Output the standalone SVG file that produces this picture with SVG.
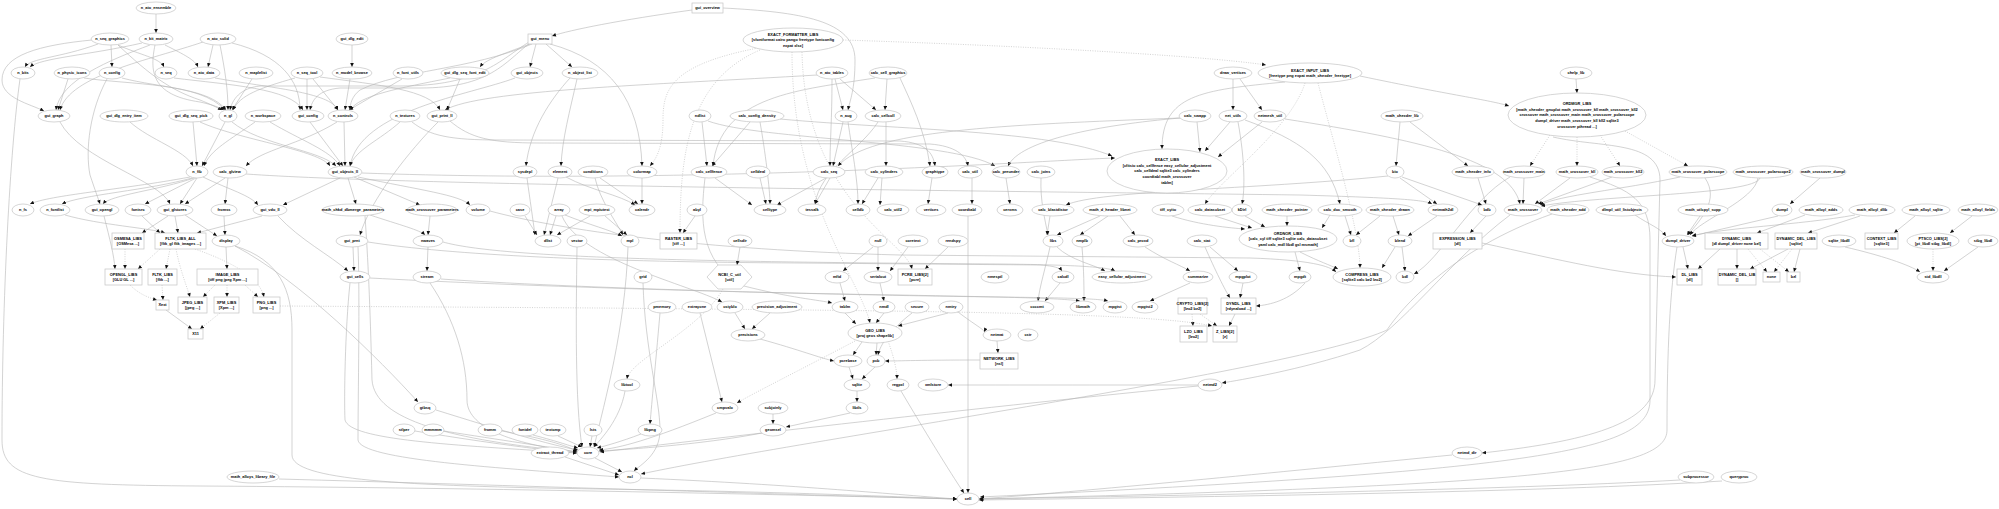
<svg xmlns="http://www.w3.org/2000/svg" width="1999" height="509" viewBox="0 0 1999 509">
<defs>
<marker id="a" viewBox="0 0 10 10" refX="10" refY="5" markerWidth="4.5" markerHeight="4" markerUnits="userSpaceOnUse" orient="auto"><path d="M0,0.5L10,5L0,9.5z" fill="#111"/></marker>
<style>
ellipse,rect.b,polygon{fill:#fff;stroke:#c4c4c4;stroke-width:0.7}
text{font-family:"Liberation Sans",Arial,sans-serif;font-size:3.9px;font-weight:bold;fill:#000;text-anchor:middle}
.e path{fill:none;stroke:#b5b5b5;stroke-width:0.6}
.e path.d{stroke-dasharray:1 1.4}
</style>
</defs>
<rect width="1999" height="509" fill="#fff"/>
<g id="edges" class="e" marker-end="url(#a)">
<path d="M156,14L156,33"/>
<path d="M98,44C60,58 30,58 25,67"/>
<path d="M111,45L112,67"/>
<path d="M118,45C140,55 160,58 164,67"/>
<path d="M92,40C40,45 2,55 2,80C2,98 30,104 44,111"/>
<path d="M118,45C150,75 170,90 200,100C210,104 218,108 222,110"/>
<path d="M142,43C90,55 40,58 30,67"/>
<path d="M165,45C185,55 195,60 198,67"/>
<path d="M150,45C110,60 60,80 56,110"/>
<path d="M155,45C150,70 150,95 200,102C214,105 220,108 224,110"/>
<path d="M213,45L208,67"/>
<path d="M203,42C150,60 70,75 60,110"/>
<path d="M220,45C225,70 228,90 228,110"/>
<path d="M232,43C280,55 300,80 300,110"/>
<path d="M352,45L352,67"/>
<path d="M68,79L58,110"/>
<path d="M84,78C130,85 200,82 225,110"/>
<path d="M122,78C160,88 210,88 226,110"/>
<path d="M107,79C90,110 85,150 90,175C95,190 98,198 100,204"/>
<path d="M174,78C230,85 290,88 303,110"/>
<path d="M215,78C270,88 330,92 338,110"/>
<path d="M252,79L232,110"/>
<path d="M307,79L307,110"/>
<path d="M313,79L338,110"/>
<path d="M320,77C380,85 430,90 440,110"/>
<path d="M295,78C260,88 240,95 233,110"/>
<path d="M350,79L345,110"/>
<path d="M402,79L349,110"/>
<path d="M450,78C400,88 360,95 350,110"/>
<path d="M460,79L447,110"/>
<path d="M530,44C500,55 485,60 480,67"/>
<path d="M532,44C470,70 400,70 360,90C352,96 350,104 350,110"/>
<path d="M529,42C500,60 480,86 400,86L260,86C240,88 232,100 230,110"/>
<path d="M530,43C505,62 490,88 420,88L340,88C318,90 312,100 310,110"/>
<path d="M60,122C80,160 160,180 170,204"/>
<path d="M130,122C150,140 185,150 193,166"/>
<path d="M193,122L197,166"/>
<path d="M200,122C240,140 320,150 330,166"/>
<path d="M225,122L202,166"/>
<path d="M232,122C260,145 320,150 336,166"/>
<path d="M255,122C230,140 210,150 204,166"/>
<path d="M270,122C300,140 330,150 340,166"/>
<path d="M310,122L343,166"/>
<path d="M337,122C300,145 260,150 246,166"/>
<path d="M344,122L345,166"/>
<path d="M400,122C380,140 355,150 350,166"/>
<path d="M412,122C430,136 450,140 500,140L900,141C925,143 933,152 935,166"/>
<path d="M438,122C410,150 370,200 360,235"/>
<path d="M450,121C470,138 490,143 540,143L930,144C955,146 966,155 968,166"/>
<path d="M692,10C620,20 570,30 552,36"/>
<path d="M723,8C800,12 855,20 855,60C855,90 850,100 848,110"/>
<path d="M536,44L530,67"/>
<path d="M546,44L572,67"/>
<path d="M550,44C610,60 640,100 642,166"/>
<path d="M577,79C570,110 562,140 561,166"/>
<path d="M570,78C550,100 530,130 526,166"/>
<path d="M515,78C470,95 360,110 350,166"/>
<path class="d" d="M843,40C1000,45 1200,55 1266,65"/>
<path class="d" d="M758,48C670,65 663,90 663,120C663,150 655,160 650,166"/>
<path class="d" d="M760,50C690,80 680,150 680,233"/>
<path class="d" d="M792,52C792,200 860,280 870,323"/>
<path class="d" d="M802,52C805,200 905,240 912,269"/>
<path d="M835,79L843,110"/>
<path d="M840,79L876,110"/>
<path d="M832,79C832,120 830,140 830,166"/>
<path d="M817,75C650,85 480,90 445,110"/>
<path d="M887,79L885,110"/>
<path d="M875,78C800,90 720,95 713,166"/>
<path d="M900,78C910,100 925,130 930,166"/>
<path d="M702,122L707,166"/>
<path d="M708,121C760,140 950,140 995,166"/>
<path d="M750,122L712,166"/>
<path d="M760,122C765,150 770,190 770,204"/>
<path d="M780,119C900,130 1050,130 1112,156"/>
<path d="M843,122L833,166"/>
<path d="M848,122C852,150 858,180 858,204"/>
<path d="M878,122C860,150 820,170 815,204"/>
<path d="M1180,118C1000,125 870,130 838,166"/>
<path d="M886,122L886,166"/>
<path d="M1233,79L1233,110"/>
<path d="M1240,79L1262,110"/>
<path d="M1285,82C1200,90 1162,95 1162,149"/>
<path class="d" d="M1305,83C1290,130 1220,180 1205,204"/>
<path class="d" d="M1318,83C1330,130 1360,230 1360,268"/>
<path d="M1360,76C1450,95 1490,100 1509,106"/>
<path d="M1180,118C1100,125 1020,140 1008,166"/>
<path d="M1197,122L1200,152"/>
<path d="M1230,122L1205,151"/>
<path d="M1262,122L1218,157"/>
<path d="M1238,122C1245,160 1245,190 1242,204"/>
<path d="M1245,120C1300,140 1330,160 1340,204"/>
<path d="M1285,119C1420,140 1510,160 1520,204"/>
<path d="M1400,122L1396,166"/>
<path d="M1410,122L1468,166"/>
<path d="M1576,79L1577,93"/>
<path class="d" d="M1550,135L1530,166"/>
<path class="d" d="M1577,137L1577,166"/>
<path class="d" d="M1600,135L1620,166"/>
<path class="d" d="M1625,131L1688,166"/>
<path d="M1553,137C1600,148 1660,140 1660,180L1655,380C1655,420 1600,440 1482,453"/>
<path d="M1590,177C1630,190 1650,200 1650,240L1650,400C1650,450 1550,470 980,497"/>
<path d="M1677,247C1670,290 1667,350 1667,430C1667,470 1550,485 980,499"/>
<path d="M1524,178L1523,204"/>
<path d="M1570,178L1535,204"/>
<path d="M1612,177L1538,204"/>
<path d="M1680,177C1620,190 1560,195 1540,205"/>
<path d="M1760,178C1755,195 1600,195 1541,206"/>
<path d="M1705,178C1720,200 1700,220 1688,235"/>
<path d="M1758,178C1755,200 1700,220 1690,235"/>
<path d="M1820,178L1790,204"/>
<path d="M1778,216L1692,236"/>
<path d="M1700,216L1687,235"/>
<path d="M1635,215C1650,225 1660,228 1666,236"/>
<path d="M1805,215L1757,233"/>
<path d="M1855,215C1800,225 1720,228 1692,236"/>
<path d="M1860,216L1808,233"/>
<path d="M1915,216L1894,233"/>
<path d="M1972,216L1950,233"/>
<path d="M1683,247L1688,269"/>
<path d="M1720,249L1698,269"/>
<path d="M1737,249L1737,269"/>
<path class="d" d="M1748,249L1767,272"/>
<path class="d" d="M1760,249L1789,272"/>
<path d="M1788,249L1750,269"/>
<path class="d" d="M1792,249L1774,272"/>
<path d="M1800,249L1794,272"/>
<path d="M1845,247C1880,255 1910,265 1920,272"/>
<path class="d" d="M1933,249L1933,271"/>
<path d="M1978,247L1944,271"/>
<path d="M1552,214C1450,250 1400,310 1387,330C1300,370 800,440 641,474"/>
<path d="M1510,215C1450,260 1400,330 1360,350C1300,370 1240,380 1222,383"/>
<path d="M1482,243C1560,260 1620,275 1676,277"/>
<path d="M1510,177C1470,200 1440,260 1414,274"/>
<path d="M1400,178L1437,204"/>
<path d="M1402,177L1482,205"/>
<path d="M1388,176C1250,190 1100,190 1066,205"/>
<path d="M1478,178L1486,204"/>
<path d="M246,174C400,185 900,190 1300,195C1400,198 1425,200 1432,204"/>
<path d="M1050,216L1047,235"/>
<path d="M1100,216L1057,235"/>
<path d="M1108,216L1080,235"/>
<path d="M1120,216L1135,235"/>
<path d="M1041,178C1040,200 1045,220 1048,235"/>
<path d="M1006,178L1010,204"/>
<path d="M1172,216C1200,225 1230,228 1245,229"/>
<path d="M1215,216L1252,228"/>
<path d="M1245,216L1265,227"/>
<path d="M1287,216L1287,226"/>
<path d="M1330,215L1322,228"/>
<path d="M1345,216L1351,235"/>
<path d="M1380,216L1356,235"/>
<path d="M1393,216L1399,235"/>
<path d="M1437,216L1408,236"/>
<path d="M1486,216L1470,233"/>
<path d="M1057,247C1070,260 1095,265 1105,271"/>
<path d="M1050,247C1045,270 1040,285 1038,301"/>
<path d="M1082,247C1084,270 1084,290 1084,301"/>
<path d="M1145,247C1165,260 1180,265 1190,271"/>
<path d="M1210,247L1238,271"/>
<path d="M1205,247C1215,270 1225,290 1230,298"/>
<path d="M1300,252C1320,262 1330,265 1338,269"/>
<path d="M1395,247L1382,268"/>
<path d="M1402,247L1405,271"/>
<path d="M1295,252L1300,271"/>
<path d="M1060,283L1045,301"/>
<path d="M368,242C450,255 600,262 800,263L1040,265C1055,266 1060,268 1062,271"/>
<path d="M443,242C500,258 700,262 1000,264C1090,265 1110,268 1115,271"/>
<path d="M490,211C560,230 700,250 900,255L1250,258C1310,260 1330,266 1336,272"/>
<path d="M370,278C500,285 700,292 900,295C1000,297 1060,298 1080,301"/>
<path d="M441,279C600,290 900,296 1000,297C1080,298 1100,299 1108,301"/>
<path d="M1190,283L1150,301"/>
<path d="M1243,283L1240,298"/>
<path d="M1305,283C1290,300 1270,305 1256,306"/>
<path class="d" d="M1192,314L1193,326"/>
<path class="d" d="M1200,314L1217,326"/>
<path d="M1235,314L1229,326"/>
<path class="d" d="M280,306L600,308C900,311 1150,312 1212,326"/>
<path d="M527,178C530,200 533,220 535,235"/>
<path d="M558,178L544,235"/>
<path d="M566,177C590,190 620,195 635,205"/>
<path d="M600,178L638,204"/>
<path d="M595,178C600,200 615,220 623,235"/>
<path d="M642,178L642,204"/>
<path d="M715,178L752,205"/>
<path d="M705,178C700,220 700,260 740,285C790,298 820,300 832,303"/>
<path d="M760,178L766,204"/>
<path d="M826,178L777,205"/>
<path d="M830,178L815,204"/>
<path d="M882,178L880,205"/>
<path d="M932,178L928,204"/>
<path d="M972,178L972,204"/>
<path d="M878,178L862,204"/>
<path d="M525,216L537,235"/>
<path d="M556,216L550,235"/>
<path d="M565,215C590,225 610,230 622,236"/>
<path d="M605,216L627,235"/>
<path d="M590,216L557,235"/>
<path d="M695,216L683,233"/>
<path d="M740,247L737,265"/>
<path d="M873,247L843,271"/>
<path d="M878,247L878,271"/>
<path d="M908,247L890,271"/>
<path d="M948,247L925,269"/>
<path d="M577,247C576,320 575,400 582,447"/>
<path d="M628,247C625,330 605,400 594,447"/>
<path d="M643,283C645,350 660,400 660,430C660,455 640,465 634,471"/>
<path class="d" d="M723,289C700,330 630,360 627,379"/>
<path d="M840,283L845,301"/>
<path d="M880,283L884,301"/>
<path d="M845,313L856,324"/>
<path d="M884,313L876,323"/>
<path d="M948,313L898,326"/>
<path d="M660,313C655,370 652,400 650,424"/>
<path d="M700,313L722,402"/>
<path d="M735,313L745,329"/>
<path d="M770,313L752,329"/>
<path d="M912,313C890,330 880,345 878,355"/>
<path d="M562,216C580,260 690,285 722,302"/>
<path d="M760,339C800,350 820,358 834,361"/>
<path d="M862,342L853,355"/>
<path d="M877,343L876,355"/>
<path class="d" d="M888,341C895,360 897,372 897,379"/>
<path class="d" d="M855,341C800,370 750,395 737,403"/>
<path d="M849,367L853,379"/>
<path d="M875,367L862,379"/>
<path d="M857,391L857,402"/>
<path d="M850,413L786,427"/>
<path d="M773,414L773,424"/>
<path d="M762,433C700,445 620,450 599,451"/>
<path d="M716,413C650,440 620,448 599,450"/>
<path d="M641,434C620,442 605,446 597,448"/>
<path d="M592,436L590,447"/>
<path d="M558,436L582,447"/>
<path d="M533,435C560,442 570,446 578,448"/>
<path d="M502,431C540,438 560,443 577,451"/>
<path d="M444,431C500,440 550,447 577,452"/>
<path d="M415,431C500,445 560,452 577,453"/>
<path d="M436,410C500,430 550,445 578,450"/>
<path d="M625,391C620,420 600,440 594,447"/>
<path d="M1198,386C1000,405 700,440 600,452"/>
<path d="M595,458L622,472"/>
<path d="M565,457L619,475"/>
<path d="M641,478C800,485 900,495 957,499"/>
<path d="M901,391C930,440 955,480 964,493"/>
<path d="M968,216C968,300 968,400 968,493"/>
<path d="M997,341L998,353"/>
<path d="M958,312C975,325 985,330 984,332"/>
<path d="M980,360C920,360 900,361 885,361"/>
<path d="M1198,385C1100,385 1000,385 948,385"/>
<path d="M1452,455C1300,470 1100,490 979,499"/>
<path d="M1680,480C1500,490 1200,495 979,499"/>
<path d="M1722,481C1550,492 1200,497 979,500"/>
<path d="M20,79C10,150 2,300 2,440C2,480 40,485 200,486C500,488 800,495 957,499"/>
<path d="M279,479C500,485 800,495 957,499"/>
<path d="M235,246C280,260 292,290 292,330L292,455C292,480 400,486 600,489C800,492 900,497 957,499"/>
<path d="M235,246C300,280 380,360 418,402"/>
<path d="M350,283C345,330 344,400 345,420C350,440 450,445 577,453"/>
<path d="M358,247C360,290 358,400 358,440C360,460 500,468 619,477"/>
<path d="M365,216C368,260 370,300 372,380C375,420 450,440 577,452"/>
<path d="M430,283C455,320 467,360 467,400C467,430 520,445 577,452"/>
<path d="M190,177C120,190 50,195 30,204"/>
<path d="M192,178C150,190 80,195 62,204"/>
<path d="M194,178C160,190 110,195 103,204"/>
<path d="M196,178L145,204"/>
<path d="M203,177C230,190 250,195 258,205"/>
<path d="M197,178L180,204"/>
<path d="M228,178L225,204"/>
<path d="M225,178L185,204"/>
<path d="M340,178L283,205"/>
<path d="M348,178L356,204"/>
<path d="M354,177L420,205"/>
<path d="M358,177C420,190 460,195 470,205"/>
<path d="M362,173C700,185 1050,160 1115,158"/>
<path d="M65,215C100,225 150,228 165,233"/>
<path d="M104,216C110,240 114,255 115,269"/>
<path d="M168,216L142,233"/>
<path d="M185,215L217,236"/>
<path d="M175,216L178,233"/>
<path d="M142,216L160,233"/>
<path d="M224,216L225,235"/>
<path d="M262,216L197,233"/>
<path d="M278,216C300,240 330,255 348,271"/>
<path d="M370,215C400,225 420,230 425,235"/>
<path d="M430,216L428,235"/>
<path class="d" d="M125,249L125,269"/>
<path class="d" d="M160,249L138,269"/>
<path class="d" d="M170,249L166,269"/>
<path class="d" d="M176,249C180,270 188,290 190,297"/>
<path class="d" d="M195,249C240,265 260,280 264,297"/>
<path d="M226,247L227,269"/>
<path class="d" d="M215,285L203,297"/>
<path class="d" d="M227,285L227,297"/>
<path class="d" d="M245,285L258,297"/>
<path class="d" d="M130,285C140,295 150,298 157,300"/>
<path class="d" d="M162,285L163,300"/>
<path d="M166,310L192,329"/>
<path class="d" d="M220,313L200,329"/>
<path d="M353,247L354,271"/>
<path d="M428,247L427,271"/>
</g>
<g id="nodes">
<g id="n_ato_ensemble"><ellipse cx="156" cy="8" rx="20" ry="6"/><text x="156" y="9.4">n_ato_ensemble</text></g>
<g id="gui_overview"><rect class="b" x="692" y="3" width="31" height="10"/><text x="707.5" y="9.4">gui_overview</text></g>
<g id="n_seq_graphics"><ellipse cx="110" cy="39" rx="19" ry="6"/><text x="110" y="40.4">n_seq_graphics</text></g>
<g id="n_kit_matrix"><ellipse cx="156" cy="39" rx="17" ry="6"/><text x="156" y="40.4">n_kit_matrix</text></g>
<g id="n_ato_solid"><ellipse cx="218" cy="39" rx="18" ry="6"/><text x="218" y="40.4">n_ato_solid</text></g>
<g id="gui_dlg_edit"><ellipse cx="352" cy="39" rx="16" ry="6"/><text x="352" y="40.4">gui_dlg_edit</text></g>
<g id="gui_menu"><rect class="b" x="528" y="34" width="24" height="10"/><text x="540" y="40.4">gui_menu</text></g>
<g id="EXACT_FORMATTER_LIBS"><ellipse cx="793" cy="40" rx="50" ry="12"/><text x="793" y="35.8">EXACT_FORMATTER_LIBS</text><text x="793" y="41.4">[sfontformat cairo pango freetype fontconfig</text><text x="793" y="47">expat xlsx]</text></g>
<g id="n_bits"><ellipse cx="23" cy="73" rx="12" ry="6"/><text x="23" y="74.4">n_bits</text></g>
<g id="n_physic_icons"><ellipse cx="72" cy="73" rx="18" ry="6"/><text x="72" y="74.4">n_physic_icons</text></g>
<g id="n_config"><ellipse cx="112" cy="73" rx="13" ry="6"/><text x="112" y="74.4">n_config</text></g>
<g id="n_seq"><ellipse cx="166" cy="73" rx="11" ry="6"/><text x="166" y="74.4">n_seq</text></g>
<g id="n_ato_data"><ellipse cx="204" cy="73" rx="16" ry="6"/><text x="204" y="74.4">n_ato_data</text></g>
<g id="n_maplelist"><ellipse cx="256" cy="73" rx="17" ry="6"/><text x="256" y="74.4">n_maplelist</text></g>
<g id="n_seq_tool"><ellipse cx="307" cy="73" rx="16" ry="6"/><text x="307" y="74.4">n_seq_tool</text></g>
<g id="n_model_browse"><ellipse cx="352" cy="73" rx="20" ry="6"/><text x="352" y="74.4">n_model_browse</text></g>
<g id="n_font_utils"><ellipse cx="408" cy="73" rx="15" ry="6"/><text x="408" y="74.4">n_font_utils</text></g>
<g id="gui_dlg_seq_font_edit"><ellipse cx="465" cy="73" rx="24" ry="6"/><text x="465" y="74.4">gui_dlg_seq_font_edit</text></g>
<g id="gui_objects"><ellipse cx="527" cy="73" rx="16" ry="6"/><text x="527" y="74.4">gui_objects</text></g>
<g id="n_object_list"><ellipse cx="580" cy="73" rx="18" ry="6"/><text x="580" y="74.4">n_object_list</text></g>
<g id="n_ato_tables"><ellipse cx="832" cy="73" rx="16" ry="6"/><text x="832" y="74.4">n_ato_tables</text></g>
<g id="calc_cell_graphics"><ellipse cx="888" cy="73" rx="19" ry="6"/><text x="888" y="74.4">calc_cell_graphics</text></g>
<g id="draw_vertices"><ellipse cx="1233" cy="73" rx="19" ry="6"/><text x="1233" y="74.4">draw_vertices</text></g>
<g id="EXACT_INPUT_LIBS"><ellipse cx="1310" cy="73" rx="52" ry="10"/><text x="1310" y="71.6">EXACT_INPUT_LIBS</text><text x="1310" y="77.2">[freetype png expat math_chexder_freetype]</text></g>
<g id="chelp_lib"><ellipse cx="1576" cy="73" rx="16" ry="6"/><text x="1576" y="74.4">chelp_lib</text></g>
<g id="gui_graph"><ellipse cx="54" cy="116" rx="16" ry="6"/><text x="54" y="117.4">gui_graph</text></g>
<g id="gui_dlg_entry_item"><ellipse cx="124" cy="116" rx="24" ry="6"/><text x="124" y="117.4">gui_dlg_entry_item</text></g>
<g id="gui_dlg_seq_pick"><ellipse cx="191" cy="116" rx="22" ry="6"/><text x="191" y="117.4">gui_dlg_seq_pick</text></g>
<g id="n_gl"><ellipse cx="228" cy="116" rx="9" ry="6"/><text x="228" y="117.4">n_gl</text></g>
<g id="n_workspace"><ellipse cx="263" cy="116" rx="18" ry="6"/><text x="263" y="117.4">n_workspace</text></g>
<g id="gui_config"><ellipse cx="308" cy="116" rx="16" ry="6"/><text x="308" y="117.4">gui_config</text></g>
<g id="n_controls"><ellipse cx="343" cy="116" rx="15" ry="6"/><text x="343" y="117.4">n_controls</text></g>
<g id="n_textures"><ellipse cx="405" cy="116" rx="15" ry="6"/><text x="405" y="117.4">n_textures</text></g>
<g id="gui_print_ll"><ellipse cx="442" cy="116" rx="15" ry="6"/><text x="442" y="117.4">gui_print_ll</text></g>
<g id="ndlist"><ellipse cx="700" cy="116" rx="11" ry="6"/><text x="700" y="117.4">ndlist</text></g>
<g id="calc_config_density"><ellipse cx="757" cy="116" rx="27" ry="6"/><text x="757" y="117.4">calc_config_density</text></g>
<g id="n_aug"><ellipse cx="846" cy="116" rx="11" ry="6"/><text x="846" y="117.4">n_aug</text></g>
<g id="calc_cellcoll"><ellipse cx="883" cy="116" rx="18" ry="6"/><text x="883" y="117.4">calc_cellcoll</text></g>
<g id="calc_swapp"><ellipse cx="1195" cy="116" rx="16" ry="6"/><text x="1195" y="117.4">calc_swapp</text></g>
<g id="net_utils"><ellipse cx="1233" cy="116" rx="14" ry="6"/><text x="1233" y="117.4">net_utils</text></g>
<g id="netmesh_util"><ellipse cx="1270" cy="116" rx="16" ry="6"/><text x="1270" y="117.4">netmesh_util</text></g>
<g id="math_chexder_lib"><ellipse cx="1402" cy="116" rx="21" ry="6"/><text x="1402" y="117.4">math_chexder_lib</text></g>
<g id="ORDMGR_LIBS"><ellipse cx="1577" cy="115" rx="69" ry="22"/><text x="1577" y="105.2">ORDMGR_LIBS</text><text x="1577" y="110.8">[math_chexder_gnuplot math_crossover_kll math_crossover_kll2</text><text x="1577" y="116.4">crossover math_crossover_main math_crossover_polarscope</text><text x="1577" y="122">dumpl_driver math_crossover_kll kll2 sqlite3</text><text x="1577" y="127.6">crossover pthread ...]</text></g>
<g id="n_fib"><ellipse cx="197" cy="172" rx="11" ry="6"/><text x="197" y="173.4">n_fib</text></g>
<g id="calc_glview"><ellipse cx="230" cy="172" rx="17" ry="6"/><text x="230" y="173.4">calc_glview</text></g>
<g id="gui_objects_ll"><ellipse cx="345" cy="172" rx="17" ry="6"/><text x="345" y="173.4">gui_objects_ll</text></g>
<g id="sysdepl"><ellipse cx="525" cy="172" rx="12" ry="6"/><text x="525" y="173.4">sysdepl</text></g>
<g id="element"><ellipse cx="560" cy="172" rx="12" ry="6"/><text x="560" y="173.4">element</text></g>
<g id="conditions"><ellipse cx="593" cy="172" rx="15" ry="6"/><text x="593" y="173.4">conditions</text></g>
<g id="colormap"><ellipse cx="642" cy="172" rx="15" ry="6"/><text x="642" y="173.4">colormap</text></g>
<g id="calc_cellfence"><ellipse cx="709" cy="172" rx="18" ry="6"/><text x="709" y="173.4">calc_cellfence</text></g>
<g id="celldeal"><ellipse cx="758" cy="172" rx="12" ry="6"/><text x="758" y="173.4">celldeal</text></g>
<g id="calc_seq"><ellipse cx="829" cy="172" rx="16" ry="6"/><text x="829" y="173.4">calc_seq</text></g>
<g id="calc_cylinders"><ellipse cx="884" cy="172" rx="19" ry="6"/><text x="884" y="173.4">calc_cylinders</text></g>
<g id="graphtype"><ellipse cx="935" cy="172" rx="13" ry="6"/><text x="935" y="173.4">graphtype</text></g>
<g id="calc_util"><ellipse cx="970" cy="172" rx="12" ry="6"/><text x="970" y="173.4">calc_util</text></g>
<g id="calc_preunder"><ellipse cx="1006" cy="172" rx="14" ry="6"/><text x="1006" y="173.4">calc_preunder</text></g>
<g id="calc_joins"><ellipse cx="1041" cy="172" rx="14" ry="6"/><text x="1041" y="173.4">calc_joins</text></g>
<g id="EXACT_LIBS"><ellipse cx="1167" cy="171" rx="60" ry="22"/><text x="1167" y="161.2">EXACT_LIBS</text><text x="1167" y="166.8">[cfitsio calc_cellfence easy_cellular_adjustment</text><text x="1167" y="172.4">calc_celldeal sqlite3 calc_cylinders</text><text x="1167" y="178">coordtabl math_crossover</text><text x="1167" y="183.6">tablm]</text></g>
<g id="bio"><ellipse cx="1395" cy="172" rx="9" ry="6"/><text x="1395" y="173.4">bio</text></g>
<g id="math_chexder_info"><ellipse cx="1473" cy="172" rx="21" ry="6"/><text x="1473" y="173.4">math_chexder_info</text></g>
<g id="math_crossover_main"><ellipse cx="1524" cy="172" rx="21" ry="6"/><text x="1524" y="173.4">math_crossover_main</text></g>
<g id="math_crossover_kll"><ellipse cx="1577" cy="172" rx="21" ry="6"/><text x="1577" y="173.4">math_crossover_kll</text></g>
<g id="math_crossover_kll2"><ellipse cx="1623" cy="172" rx="21" ry="6"/><text x="1623" y="173.4">math_crossover_kll2</text></g>
<g id="math_crossover_polarscope"><ellipse cx="1698" cy="172" rx="29" ry="6"/><text x="1698" y="173.4">math_crossover_polarscope</text></g>
<g id="math_crossover_polarscope2"><ellipse cx="1763" cy="172" rx="30" ry="6"/><text x="1763" y="173.4">math_crossover_polarscope2</text></g>
<g id="math_crossover_dumpl"><ellipse cx="1823" cy="172" rx="23" ry="6"/><text x="1823" y="173.4">math_crossover_dumpl</text></g>
<g id="n_fs"><ellipse cx="23" cy="210" rx="11" ry="6"/><text x="23" y="211.4">n_fs</text></g>
<g id="n_fontlist"><ellipse cx="55" cy="210" rx="15" ry="6"/><text x="55" y="211.4">n_fontlist</text></g>
<g id="gui_opengl"><ellipse cx="102" cy="210" rx="17" ry="6"/><text x="102" y="211.4">gui_opengl</text></g>
<g id="fontsrc"><ellipse cx="138" cy="210" rx="13" ry="6"/><text x="138" y="211.4">fontsrc</text></g>
<g id="gui_glstores"><ellipse cx="175" cy="210" rx="18" ry="6"/><text x="175" y="211.4">gui_glstores</text></g>
<g id="fromss"><ellipse cx="224" cy="210" rx="13" ry="6"/><text x="224" y="211.4">fromss</text></g>
<g id="gui_vdo_ll"><ellipse cx="270" cy="210" rx="17" ry="6"/><text x="270" y="211.4">gui_vdo_ll</text></g>
<g id="math_chkd_dbmerge_parameters"><ellipse cx="353" cy="210" rx="31" ry="6"/><text x="353" y="211.4">math_chkd_dbmerge_parameters</text></g>
<g id="math_crossover_parameters"><ellipse cx="432" cy="210" rx="25" ry="6"/><text x="432" y="211.4">math_crossover_parameters</text></g>
<g id="volume"><ellipse cx="478" cy="210" rx="12" ry="6"/><text x="478" y="211.4">volume</text></g>
<g id="case"><ellipse cx="520" cy="210" rx="10" ry="6"/><text x="520" y="211.4">case</text></g>
<g id="array"><ellipse cx="559" cy="210" rx="11" ry="6"/><text x="559" y="211.4">array</text></g>
<g id="mpi_mpiutest"><ellipse cx="597" cy="210" rx="18" ry="6"/><text x="597" y="211.4">mpi_mpiutest</text></g>
<g id="calendr"><ellipse cx="642" cy="210" rx="13" ry="6"/><text x="642" y="211.4">calendr</text></g>
<g id="abyl"><ellipse cx="697" cy="210" rx="10" ry="6"/><text x="697" y="211.4">abyl</text></g>
<g id="celltype"><ellipse cx="770" cy="210" rx="16" ry="6"/><text x="770" y="211.4">celltype</text></g>
<g id="tessalk"><ellipse cx="812" cy="210" rx="14" ry="6"/><text x="812" y="211.4">tessalk</text></g>
<g id="celldb"><ellipse cx="858" cy="210" rx="12" ry="6"/><text x="858" y="211.4">celldb</text></g>
<g id="calc_util2"><ellipse cx="893" cy="210" rx="16" ry="6"/><text x="893" y="211.4">calc_util2</text></g>
<g id="vertices"><ellipse cx="931" cy="210" rx="15" ry="6"/><text x="931" y="211.4">vertices</text></g>
<g id="coordtabl"><ellipse cx="967" cy="210" rx="15" ry="6"/><text x="967" y="211.4">coordtabl</text></g>
<g id="cerxms"><ellipse cx="1010" cy="210" rx="13" ry="6"/><text x="1010" y="211.4">cerxms</text></g>
<g id="calc_blastdistor"><ellipse cx="1053" cy="210" rx="21" ry="6"/><text x="1053" y="211.4">calc_blastdistor</text></g>
<g id="math_d_header_libnet"><ellipse cx="1110" cy="210" rx="27" ry="6"/><text x="1110" y="211.4">math_d_header_libnet</text></g>
<g id="tiff_cyito"><ellipse cx="1168" cy="210" rx="16" ry="6"/><text x="1168" y="211.4">tiff_cyito</text></g>
<g id="calc_datasubset"><ellipse cx="1210" cy="210" rx="22" ry="6"/><text x="1210" y="211.4">calc_datasubset</text></g>
<g id="kDirl"><ellipse cx="1242" cy="210" rx="10" ry="6"/><text x="1242" y="211.4">kDirl</text></g>
<g id="math_chexder_pointer"><ellipse cx="1287" cy="210" rx="25" ry="6"/><text x="1287" y="211.4">math_chexder_pointer</text></g>
<g id="calc_doc_smooth"><ellipse cx="1340" cy="210" rx="22" ry="6"/><text x="1340" y="211.4">calc_doc_smooth</text></g>
<g id="math_chexder_drawn"><ellipse cx="1390" cy="210" rx="24" ry="6"/><text x="1390" y="211.4">math_chexder_drawn</text></g>
<g id="netmath2dl"><ellipse cx="1443" cy="210" rx="15" ry="6"/><text x="1443" y="211.4">netmath2dl</text></g>
<g id="bdb"><ellipse cx="1487" cy="210" rx="9" ry="6"/><text x="1487" y="211.4">bdb</text></g>
<g id="math_crossover"><ellipse cx="1523" cy="210" rx="19" ry="6"/><text x="1523" y="211.4">math_crossover</text></g>
<g id="math_chexder_add"><ellipse cx="1568" cy="210" rx="21" ry="6"/><text x="1568" y="211.4">math_chexder_add</text></g>
<g id="dlmpl_util_listobjects"><ellipse cx="1622" cy="210" rx="26" ry="6"/><text x="1622" y="211.4">dlmpl_util_listobjects</text></g>
<g id="math_utlcpyl_supp"><ellipse cx="1703" cy="210" rx="25" ry="6"/><text x="1703" y="211.4">math_utlcpyl_supp</text></g>
<g id="dumpl"><ellipse cx="1782" cy="210" rx="10" ry="6"/><text x="1782" y="211.4">dumpl</text></g>
<g id="math_alloyl_adds"><ellipse cx="1821" cy="210" rx="22" ry="6"/><text x="1821" y="211.4">math_alloyl_adds</text></g>
<g id="math_alloyl_dlib"><ellipse cx="1872" cy="210" rx="23" ry="6"/><text x="1872" y="211.4">math_alloyl_dlib</text></g>
<g id="math_alloyl_sqlite"><ellipse cx="1926" cy="210" rx="24" ry="6"/><text x="1926" y="211.4">math_alloyl_sqlite</text></g>
<g id="math_alloyl_fields"><ellipse cx="1978" cy="210" rx="20" ry="6"/><text x="1978" y="211.4">math_alloyl_fields</text></g>
<g id="OSMESA_LIBS"><rect class="b" x="112" y="233" width="32" height="16"/><text x="128" y="239.6">OSMESA_LIBS</text><text x="128" y="245.2">[OSMesa ...]</text></g>
<g id="FLTK_LIBS_ALL"><rect class="b" x="155" y="233" width="51" height="16"/><text x="180.5" y="239.6">FLTK_LIBS_ALL</text><text x="180.5" y="245.2">[fltk_gl fltk_images ...]</text></g>
<g id="display"><ellipse cx="226" cy="241" rx="14" ry="6"/><text x="226" y="242.4">display</text></g>
<g id="gui_prnt"><ellipse cx="352" cy="241" rx="16" ry="6"/><text x="352" y="242.4">gui_prnt</text></g>
<g id="nwaves"><ellipse cx="428" cy="241" rx="15" ry="6"/><text x="428" y="242.4">nwaves</text></g>
<g id="dlist"><ellipse cx="548" cy="241" rx="13" ry="6"/><text x="548" y="242.4">dlist</text></g>
<g id="vector"><ellipse cx="577" cy="241" rx="10" ry="6"/><text x="577" y="242.4">vector</text></g>
<g id="mpl"><ellipse cx="630" cy="241" rx="9" ry="6"/><text x="630" y="242.4">mpl</text></g>
<g id="RASTER_LIBS"><rect class="b" x="660" y="233" width="37" height="16"/><text x="678.5" y="239.6">RASTER_LIBS</text><text x="678.5" y="245.2">[tiff ...]</text></g>
<g id="cellsdir"><ellipse cx="740" cy="241" rx="12" ry="6"/><text x="740" y="242.4">cellsdir</text></g>
<g id="null"><ellipse cx="878" cy="241" rx="9" ry="6"/><text x="878" y="242.4">null</text></g>
<g id="coretext"><ellipse cx="913" cy="241" rx="15" ry="6"/><text x="913" y="242.4">coretext</text></g>
<g id="rendspy"><ellipse cx="953" cy="241" rx="15" ry="6"/><text x="953" y="242.4">rendspy</text></g>
<g id="libs"><ellipse cx="1053" cy="241" rx="10" ry="6"/><text x="1053" y="242.4">libs</text></g>
<g id="nmplb"><ellipse cx="1082" cy="241" rx="10" ry="6"/><text x="1082" y="242.4">nmplb</text></g>
<g id="calc_proxd"><ellipse cx="1138" cy="241" rx="15" ry="6"/><text x="1138" y="242.4">calc_proxd</text></g>
<g id="calc_stat"><ellipse cx="1202" cy="241" rx="15" ry="6"/><text x="1202" y="242.4">calc_stat</text></g>
<g id="ORDNOR_LIBS"><ellipse cx="1288" cy="239" rx="49" ry="13"/><text x="1288" y="234.8">ORDNOR_LIBS</text><text x="1288" y="240.4">[calc_cyl tiff sqlite3 sqlite calc_datasubset</text><text x="1288" y="246">yaml calc_mdl libdl gsl msmath]</text></g>
<g id="bfl"><ellipse cx="1352" cy="241" rx="9" ry="6"/><text x="1352" y="242.4">bfl</text></g>
<g id="blend"><ellipse cx="1400" cy="241" rx="12" ry="6"/><text x="1400" y="242.4">blend</text></g>
<g id="EXPRESSION_LIBS"><rect class="b" x="1433" y="233" width="49" height="16"/><text x="1457.5" y="239.6">EXPRESSION_LIBS</text><text x="1457.5" y="245.2">[dl]</text></g>
<g id="dumpl_driver"><ellipse cx="1678" cy="241" rx="16" ry="6"/><text x="1678" y="242.4">dumpl_driver</text></g>
<g id="DYNAMIC_LIBS"><rect class="b" x="1705" y="233" width="63" height="16"/><text x="1736.5" y="239.6">DYNAMIC_LIBS</text><text x="1736.5" y="245.2">[dl dumpl_driver none bzl]</text></g>
<g id="DYNAMIC_DEL_LIBS"><rect class="b" x="1775" y="233" width="42" height="16"/><text x="1796" y="239.6">DYNAMIC_DEL_LIBS</text><text x="1796" y="245.2">[sqlite]</text></g>
<g id="sqlite_libdll"><ellipse cx="1839" cy="241" rx="17" ry="6"/><text x="1839" y="242.4">sqlite_libdll</text></g>
<g id="CONTEXT_LIBS"><rect class="b" x="1865" y="233" width="33" height="16"/><text x="1881.5" y="239.6">CONTEXT_LIBS</text><text x="1881.5" y="245.2">[sqlite3]</text></g>
<g id="PTSCO_LIBS"><ellipse cx="1933" cy="241" rx="26" ry="8"/><text x="1933" y="239.6">PTSCO_LIBS[2]</text><text x="1933" y="245.2">[pt_libdl stbg_libdl]</text></g>
<g id="stbg_libdl"><ellipse cx="1983" cy="241" rx="15" ry="6"/><text x="1983" y="242.4">stbg_libdl</text></g>
<g id="OPENGL_LIBS"><rect class="b" x="105" y="269" width="37" height="16"/><text x="123.5" y="275.6">OPENGL_LIBS</text><text x="123.5" y="281.2">[GLU GL ...]</text></g>
<g id="FLTK_LIBS"><rect class="b" x="148" y="269" width="29" height="16"/><text x="162.5" y="275.6">FLTK_LIBS</text><text x="162.5" y="281.2">[fltk ...]</text></g>
<g id="IMAGE_LIBS"><rect class="b" x="197" y="269" width="61" height="16"/><text x="227.5" y="275.6">IMAGE_LIBS</text><text x="227.5" y="281.2">[tiff png jpeg Xpm ...]</text></g>
<g id="gui_cells"><ellipse cx="355" cy="277" rx="15" ry="6"/><text x="355" y="278.4">gui_cells</text></g>
<g id="stream"><ellipse cx="427" cy="277" rx="14" ry="6"/><text x="427" y="278.4">stream</text></g>
<g id="grid"><ellipse cx="643" cy="277" rx="9" ry="6"/><text x="643" y="278.4">grid</text></g>
<g id="NCBI_C_util"><polygon points="707,277 718,265 741,265 752,277 741,289 718,289"/><text x="729.5" y="275.6">NCBI_C_util</text><text x="729.5" y="281.2">[util]</text></g>
<g id="mfid"><ellipse cx="837" cy="277" rx="12" ry="6"/><text x="837" y="278.4">mfid</text></g>
<g id="serialout"><ellipse cx="878" cy="277" rx="14" ry="6"/><text x="878" y="278.4">serialout</text></g>
<g id="PCRE_LIBS"><rect class="b" x="898" y="269" width="34" height="16"/><text x="915" y="275.6">PCRE_LIBS[2]</text><text x="915" y="281.2">[pcre]</text></g>
<g id="nmesptl"><ellipse cx="995" cy="277" rx="14" ry="6"/><text x="995" y="278.4">nmesptl</text></g>
<g id="calcdl"><ellipse cx="1063" cy="277" rx="11" ry="6"/><text x="1063" y="278.4">calcdl</text></g>
<g id="easy_cellular_adjustment"><ellipse cx="1122" cy="277" rx="30" ry="6"/><text x="1122" y="278.4">easy_cellular_adjustment</text></g>
<g id="summarize"><ellipse cx="1198" cy="277" rx="15" ry="6"/><text x="1198" y="278.4">summarize</text></g>
<g id="mpgplot"><ellipse cx="1243" cy="277" rx="14" ry="6"/><text x="1243" y="278.4">mpgplot</text></g>
<g id="mpgdt"><ellipse cx="1300" cy="277" rx="11" ry="6"/><text x="1300" y="278.4">mpgdt</text></g>
<g id="COMPRESS_LIBS"><ellipse cx="1362" cy="277" rx="29" ry="9"/><text x="1362" y="275.6">COMPRESS_LIBS</text><text x="1362" y="281.2">[sqlite3 calc bz2 lzo2]</text></g>
<g id="bdl"><ellipse cx="1405" cy="277" rx="9" ry="6"/><text x="1405" y="278.4">bdl</text></g>
<g id="DL_LIBS"><rect class="b" x="1677" y="269" width="25" height="16"/><text x="1689.5" y="275.6">DL_LIBS</text><text x="1689.5" y="281.2">[dl]</text></g>
<g id="DYNAMIC_DEL_LIB"><rect class="b" x="1718" y="269" width="38" height="16"/><text x="1737" y="275.6">DYNAMIC_DEL_LIB</text><text x="1737" y="281.2">[]</text></g>
<g id="none"><rect class="b" x="1763" y="272" width="17" height="10"/><text x="1771.5" y="278.4">none</text></g>
<g id="bzl"><rect class="b" x="1787" y="272" width="13" height="10"/><text x="1793.5" y="278.4">bzl</text></g>
<g id="std_libdll"><ellipse cx="1933" cy="277" rx="16" ry="6"/><text x="1933" y="278.4">std_libdll</text></g>
<g id="Xext"><rect class="b" x="156" y="300" width="13" height="10"/><text x="162.5" y="306.4">Xext</text></g>
<g id="JPEG_LIBS"><rect class="b" x="178" y="297" width="29" height="16"/><text x="192.5" y="303.6">JPEG_LIBS</text><text x="192.5" y="309.2">[jpeg ...]</text></g>
<g id="XPM_LIBS"><rect class="b" x="214" y="297" width="25" height="16"/><text x="226.5" y="303.6">XPM_LIBS</text><text x="226.5" y="309.2">[Xpm ...]</text></g>
<g id="PNG_LIBS"><rect class="b" x="253" y="297" width="27" height="16"/><text x="266.5" y="303.6">PNG_LIBS</text><text x="266.5" y="309.2">[png ...]</text></g>
<g id="pmemory"><ellipse cx="662" cy="307" rx="14" ry="6"/><text x="662" y="308.4">pmemory</text></g>
<g id="extrayone"><ellipse cx="697" cy="307" rx="15" ry="6"/><text x="697" y="308.4">extrayone</text></g>
<g id="cstyblo"><ellipse cx="730" cy="307" rx="13" ry="6"/><text x="730" y="308.4">cstyblo</text></g>
<g id="precision_adjustment"><ellipse cx="777" cy="307" rx="25" ry="6"/><text x="777" y="308.4">precision_adjustment</text></g>
<g id="tablm"><ellipse cx="845" cy="307" rx="13" ry="6"/><text x="845" y="308.4">tablm</text></g>
<g id="nmdl"><ellipse cx="884" cy="307" rx="11" ry="6"/><text x="884" y="308.4">nmdl</text></g>
<g id="secure"><ellipse cx="917" cy="307" rx="12" ry="6"/><text x="917" y="308.4">secure</text></g>
<g id="nmtry"><ellipse cx="951" cy="307" rx="12" ry="6"/><text x="951" y="308.4">nmtry</text></g>
<g id="ccccmt"><ellipse cx="1037" cy="307" rx="17" ry="6"/><text x="1037" y="308.4">ccccmt</text></g>
<g id="libmath"><ellipse cx="1083" cy="307" rx="13" ry="6"/><text x="1083" y="308.4">libmath</text></g>
<g id="mpgtst"><ellipse cx="1115" cy="307" rx="12" ry="6"/><text x="1115" y="308.4">mpgtst</text></g>
<g id="mpgtst2"><ellipse cx="1145" cy="307" rx="13" ry="6"/><text x="1145" y="308.4">mpgtst2</text></g>
<g id="CRYPTO_LIBS"><rect class="b" x="1178" y="298" width="29" height="16"/><text x="1192.5" y="304.6">CRYPTO_LIBS[2]</text><text x="1192.5" y="310.2">[lzo2 bz2]</text></g>
<g id="DYNDL_LIBS"><rect class="b" x="1221" y="298" width="35" height="16"/><text x="1238.5" y="304.6">DYNDL_LIBS</text><text x="1238.5" y="310.2">[rdynaload ...]</text></g>
<g id="X11"><rect class="b" x="188" y="329" width="15" height="10"/><text x="195.5" y="335.4">X11</text></g>
<g id="precisions"><ellipse cx="748" cy="335" rx="17" ry="6"/><text x="748" y="336.4">precisions</text></g>
<g id="GEO_LIBS"><ellipse cx="875" cy="333" rx="27" ry="10"/><text x="875" y="331.6">GEO_LIBS</text><text x="875" y="337.2">[proj geos shapelib]</text></g>
<g id="netmat"><ellipse cx="997" cy="335" rx="14" ry="6"/><text x="997" y="336.4">netmat</text></g>
<g id="cstr"><ellipse cx="1028" cy="335" rx="10" ry="6"/><text x="1028" y="336.4">cstr</text></g>
<g id="LZO_LIBS"><rect class="b" x="1180" y="326" width="27" height="16"/><text x="1193.5" y="332.6">LZO_LIBS</text><text x="1193.5" y="338.2">[lzo2]</text></g>
<g id="Z_LIBS"><rect class="b" x="1213" y="326" width="24" height="16"/><text x="1225" y="332.6">Z_LIBS[2]</text><text x="1225" y="338.2">[z]</text></g>
<g id="pcrebase"><ellipse cx="848" cy="361" rx="14" ry="6"/><text x="848" y="362.4">pcrebase</text></g>
<g id="pcb"><ellipse cx="876" cy="361" rx="9" ry="6"/><text x="876" y="362.4">pcb</text></g>
<g id="NETWORK_LIBS"><rect class="b" x="980" y="353" width="38" height="16"/><text x="999" y="359.6">NETWORK_LIBS</text><text x="999" y="365.2">[nsl]</text></g>
<g id="libtool"><ellipse cx="627" cy="385" rx="13" ry="6"/><text x="627" y="386.4">libtool</text></g>
<g id="sqlite"><ellipse cx="857" cy="385" rx="13" ry="6"/><text x="857" y="386.4">sqlite</text></g>
<g id="regpxl"><ellipse cx="898" cy="385" rx="11" ry="6"/><text x="898" y="386.4">regpxl</text></g>
<g id="xmlstore"><ellipse cx="933" cy="385" rx="15" ry="6"/><text x="933" y="386.4">xmlstore</text></g>
<g id="netmd2"><ellipse cx="1210" cy="385" rx="12" ry="6"/><text x="1210" y="386.4">netmd2</text></g>
<g id="gtbsq"><ellipse cx="425" cy="408" rx="11" ry="6"/><text x="425" y="409.4">gtbsq</text></g>
<g id="cmpvalo"><ellipse cx="725" cy="408" rx="13" ry="6"/><text x="725" y="409.4">cmpvalo</text></g>
<g id="subjoinly"><ellipse cx="773" cy="408" rx="15" ry="6"/><text x="773" y="409.4">subjoinly</text></g>
<g id="libtls"><ellipse cx="857" cy="408" rx="11" ry="6"/><text x="857" y="409.4">libtls</text></g>
<g id="stlper"><ellipse cx="404" cy="430" rx="11" ry="6"/><text x="404" y="431.4">stlper</text></g>
<g id="mmmmm"><ellipse cx="433" cy="430" rx="11" ry="6"/><text x="433" y="431.4">mmmmm</text></g>
<g id="fromm"><ellipse cx="490" cy="430" rx="12" ry="6"/><text x="490" y="431.4">fromm</text></g>
<g id="fontdef"><ellipse cx="525" cy="430" rx="13" ry="6"/><text x="525" y="431.4">fontdef</text></g>
<g id="textcmp"><ellipse cx="553" cy="430" rx="13" ry="6"/><text x="553" y="431.4">textcmp</text></g>
<g id="lsts"><ellipse cx="593" cy="430" rx="9" ry="6"/><text x="593" y="431.4">lsts</text></g>
<g id="libpng"><ellipse cx="650" cy="430" rx="12" ry="6"/><text x="650" y="431.4">libpng</text></g>
<g id="geomsel"><ellipse cx="773" cy="430" rx="13" ry="6"/><text x="773" y="431.4">geomsel</text></g>
<g id="extract_thread"><ellipse cx="550" cy="453" rx="19" ry="6"/><text x="550" y="454.4">extract_thread</text></g>
<g id="core"><ellipse cx="588" cy="453" rx="11" ry="6"/><text x="588" y="454.4">core</text></g>
<g id="netmd_dir"><ellipse cx="1467" cy="453" rx="15" ry="6"/><text x="1467" y="454.4">netmd_dir</text></g>
<g id="ncl"><ellipse cx="630" cy="477" rx="11" ry="6"/><text x="630" y="478.4">ncl</text></g>
<g id="math_alloys_library_file"><ellipse cx="253" cy="477" rx="26" ry="6"/><text x="253" y="478.4">math_alloys_library_file</text></g>
<g id="subprocessor"><ellipse cx="1696" cy="477" rx="18" ry="6"/><text x="1696" y="478.4">subprocessor</text></g>
<g id="queryproc"><ellipse cx="1739" cy="477" rx="18" ry="6"/><text x="1739" y="478.4">queryproc</text></g>
<g id="cell"><ellipse cx="968" cy="499" rx="11" ry="6"/><text x="968" y="500.4">cell</text></g>
</g>
</svg>
